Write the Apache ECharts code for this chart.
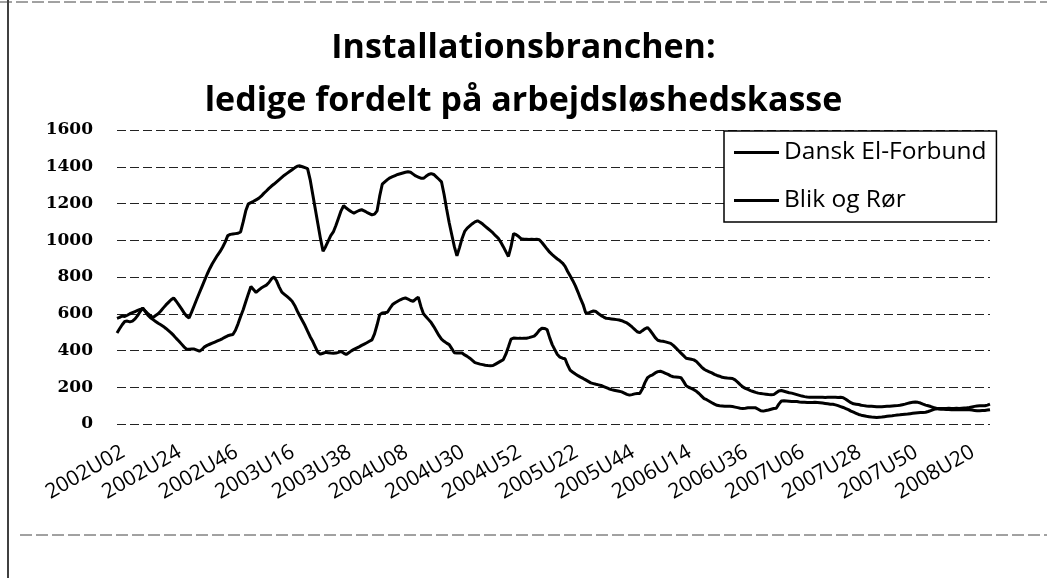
<!DOCTYPE html>
<html><head><meta charset="utf-8">
<script src="https://cdn.jsdelivr.net/npm/echarts@6/dist/echarts.min.js"></script>
<style>html,body{margin:0;padding:0;background:#fff}#c{width:1047px;height:578px}</style>
</head><body><div id="c"></div>
<script>
const titleLines = ['Installationsbranchen:', 'ledige fordelt på arbejdsløshedskasse'];
const seriesNames = ['Dansk El-Forbund', 'Blik og Rør'];
// weekly categories: 2002U02 ... 2008U29 (52 weeks per year)
const firstYear = 2002, firstWeek = 2, weeksPerYear = 52, weekCount = 340;
const yMin = 0, yMax = 1600, yStep = 200;
const labelEvery = 22;

const danskEl = [
575,580,588,585,592,600,606,612,618,624,
628,615,600,588,580,590,600,615,632,648,
662,676,686,668,648,628,606,588,577,610,
645,680,714,748,782,815,845,872,895,918,
938,962,990,1025,1032,1034,1036,1038,1045,1100,
1160,1198,1205,1212,1220,1228,1240,1255,1268,1282,
1295,1306,1318,1330,1342,1354,1364,1374,1384,1394,
1403,1405,1400,1395,1390,1330,1250,1170,1090,1010,
940,965,995,1025,1045,1080,1120,1160,1188,1175,
1165,1155,1148,1155,1162,1166,1160,1152,1145,1138,
1142,1160,1240,1305,1318,1330,1340,1346,1352,1358,
1362,1366,1370,1373,1370,1360,1350,1344,1338,1337,
1348,1358,1363,1358,1345,1332,1318,1250,1170,1095,
1030,965,915,960,1010,1048,1066,1078,1090,1100,
1106,1098,1088,1076,1064,1052,1040,1025,1012,990,
965,938,912,965,1036,1030,1020,1008,1005,1005,
1004,1005,1004,1005,1003,988,970,952,935,922,
910,898,888,876,858,830,805,780,752,718,
682,650,605,604,610,615,612,600,590,582,
575,574,572,570,568,566,562,556,550,540,
528,515,502,497,508,518,525,510,490,470,
456,452,450,447,443,439,428,414,400,386,
372,358,355,352,349,340,325,310,298,290,
284,278,270,264,260,254,252,250,249,248,
240,228,214,202,194,188,182,177,172,168,
166,164,162,160,159,160,170,180,182,178,
174,170,168,164,160,156,152,149,147,146,
145,145,145,146,145,144,145,146,145,145,
144,145,143,135,125,116,110,108,106,102,
100,98,97,96,95,94,94,94,95,96,
97,98,99,100,102,105,108,112,116,118,
120,118,114,108,103,99,95,90,86,82,
80,80,79,79,78,78,78,79,78,78,
77,78,76,74,72,72,73,74,76,78
];

const blikOgRor = [
495,518,540,558,560,556,560,572,590,612,
632,612,592,578,568,558,548,540,531,520,
508,496,482,466,452,436,420,408,407,408,
408,402,396,405,420,428,434,440,446,452,
458,465,473,480,484,487,510,545,585,622,
665,708,748,732,716,728,740,748,756,770,
790,800,778,745,718,706,694,682,668,645,
615,588,562,536,505,475,450,420,390,380,
385,390,388,386,385,386,390,395,386,378,
388,398,406,413,420,428,435,442,450,458,
490,540,595,604,606,608,630,650,660,668,
676,682,686,680,672,668,680,690,640,600,
584,568,552,530,506,482,462,450,440,432,
410,388,386,387,386,376,368,358,346,334,
330,326,323,320,318,317,318,326,334,342,
350,380,420,462,468,467,466,466,467,467,
470,474,478,492,510,521,520,514,470,432,
405,378,364,358,355,320,292,282,272,263,
255,248,240,232,224,220,216,213,210,204,
198,192,187,184,181,178,175,168,161,157,
160,164,166,166,190,225,252,262,268,278,
285,287,282,276,270,262,257,256,255,252,
232,208,200,194,187,178,166,152,138,132,
124,116,108,102,99,98,97,96,96,95,
92,89,86,85,86,88,89,89,88,80,
72,70,73,76,80,84,86,108,125,126,
125,124,123,122,122,120,119,118,117,117,
117,118,117,116,114,112,110,108,107,104,
100,95,90,84,78,70,64,58,52,48,
45,42,40,38,37,36,37,38,40,42,
44,45,47,49,50,52,53,54,56,58,
60,61,62,63,64,68,73,78,82,84,
85,85,85,86,85,85,86,85,86,87,
88,90,93,96,98,99,100,99,103,108
];

const categories = [];
for (let i = 0; i < weekCount; i++) {
  const k = firstWeek - 1 + i;
  const y = firstYear + Math.floor(k / weeksPerYear);
  const w = (k % weeksPerYear) + 1;
  categories.push(y + 'U' + (w < 10 ? '0' + w : '' + w));
}

const chart = echarts.init(document.getElementById('c'), null, {renderer: 'canvas'});
chart.setOption({
  animation: false,
  backgroundColor: '#fff',
  title: {
    text: titleLines.join('\n'),
    left: 'center',
    top: 17,
    textStyle: {fontFamily: 'Open Sans', fontWeight: 'bold', fontSize: 34, lineHeight: 53, color: '#000'}
  },
  legend: {
    data: seriesNames,
    orient: 'vertical',
    left: 724, top: 131,
    padding: [9, 10, 9, 10],
    itemGap: 23,
    itemWidth: 45, itemHeight: 3,
    icon: 'rect',
    borderColor: '#000', borderWidth: 1.5,
    backgroundColor: '#fff',
    textStyle: {fontFamily: 'Open Sans', fontSize: 24.5, color: '#000', lineHeight: 24}
  },
  grid: {left: 117, right: 57, top: 130, bottom: 154},
  xAxis: {
    type: 'category',
    data: categories,
    boundaryGap: false,
    axisLine: {show: false},
    axisTick: {show: false},
    splitLine: {show: false},
    axisLabel: {
      interval: labelEvery - 1,
      rotate: 30,
      margin: 30,
      padding: [8, -7, 0, 0],
      fontFamily: 'Open Sans', fontSize: 21, color: '#000'
    }
  },
  yAxis: {
    type: 'value',
    min: yMin, max: yMax, interval: yStep,
    axisLine: {show: false},
    axisTick: {show: false},
    axisLabel: {
      margin: 24,
      formatter: function (v) { return String(v); },
      fontFamily: 'DejaVu Serif', fontWeight: 'bold', fontSize: 17, color: '#000'
    },
    splitLine: {lineStyle: {color: '#222', width: 1, type: [9, 4]}}
  },
  series: [
    {name: seriesNames[0], type: 'line', data: danskEl, symbol: 'none', lineStyle: {color: '#000', width: 3}, itemStyle: {color: '#000'}},
    {name: seriesNames[1], type: 'line', data: blikOgRor, symbol: 'none', lineStyle: {color: '#000', width: 3}, itemStyle: {color: '#000'}}
  ],
  graphic: [
    {type: 'line', shape: {x1: 8, y1: 0, x2: 8, y2: 578}, style: {stroke: '#000', lineWidth: 1.5}},
    {type: 'line', shape: {x1: 0, y1: 2, x2: 1047, y2: 2}, style: {stroke: '#444', lineWidth: 1, lineDash: [12, 4]}},
    {type: 'line', shape: {x1: 20, y1: 535, x2: 1047, y2: 535}, style: {stroke: '#444', lineWidth: 1, lineDash: [12, 4]}}
  ]
});
</script>
</body></html>
